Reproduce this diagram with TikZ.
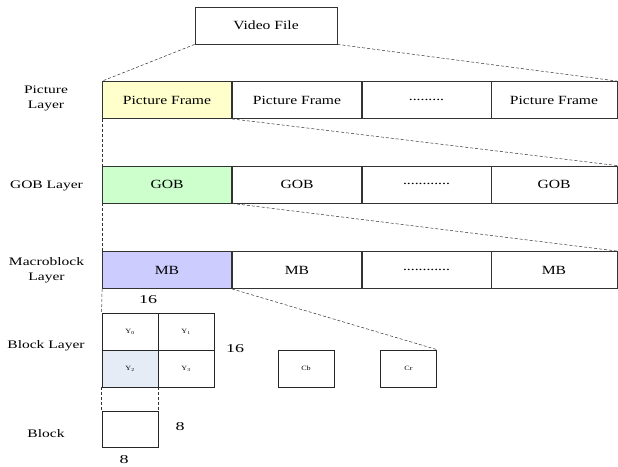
\documentclass[tikz,border=0pt]{standalone}
\usepackage{fontspec}
\setmainfont{Liberation Serif}
% horizontally widened serif faces
\newfontfamily\cellfont[FakeStretch=1.25]{Liberation Serif}
\newfontfamily\labfont[FakeStretch=1.35]{Liberation Serif}
\newfontfamily\numfont[FakeStretch=1.5]{Liberation Serif}
\begin{document}
\begin{tikzpicture}[x=1pt,y=-1pt,
  cell/.style={draw=black!80, line width=0.8pt, inner sep=0pt,
    minimum width=129pt, minimum height=37pt, font=\cellfont\fontsize{12.5}{14}\selectfont},
  sq/.style={draw=black!85, line width=0.8pt, inner sep=0pt,
    minimum width=56pt, minimum height=37pt},
  small/.style={font=\cellfont\fontsize{6.5}{7}\selectfont},
  lab/.style={align=center, font=\labfont\fontsize{11.5}{15.5}\selectfont},
  num/.style={font=\numfont\fontsize{12}{13}\selectfont},
  dashline/.style={densely dashed, line width=0.5pt, draw=black!80}]
\useasboundingbox (0,0) rectangle (618,466);
\definecolor{pfill}{HTML}{FFFFCC}
\definecolor{gfill}{HTML}{CCFFCC}
\definecolor{mfill}{HTML}{CCCCFF}
\definecolor{yfill}{HTML}{E6ECF6}

% top level
\node[cell, minimum width=142pt] (vf) at (266,25.5) {Video File};

% picture layer
\node[cell, fill=pfill] (pf1) at (167,100) {Picture Frame};
\node[cell] (pf2) at (297,100) {Picture Frame};
\node[cell] (pf3) at (426.5,100) {\raisebox{1pt}{.........}};
\node[cell, minimum width=126pt] (pf4) at (554,100) {Picture Frame};

% GOB layer
\node[cell, fill=gfill] (g1) at (167,184.5) {GOB};
\node[cell] (g2) at (297,184.5) {GOB};
\node[cell] (g3) at (426.5,184.5) {\raisebox{1pt}{............}};
\node[cell, minimum width=126pt] (g4) at (554,184.5) {GOB};

% macroblock layer
\node[cell, fill=mfill] (m1) at (167,270) {MB};
\node[cell] (m2) at (297,270) {MB};
\node[cell] (m3) at (426.5,270) {\raisebox{1pt}{............}};
\node[cell, minimum width=126pt] (m4) at (554,270) {MB};

% block layer
\node[sq, small] (y0) at (130,331.5) {Y\textsubscript{0}};
\node[sq, small] (y1) at (186,331.5) {Y\textsubscript{1}};
\node[sq, small, fill=yfill] (y2) at (130,368.5) {Y\textsubscript{2}};
\node[sq, small] (y3) at (186,368.5) {Y\textsubscript{3}};
\node[sq, small] (cb) at (306,368.5) {Cb};
\node[sq, small] (cr) at (408.5,368.5) {Cr};

% single block
\node[sq, minimum height=36pt] (blk) at (130,429) {};

% dimension labels
\node[num] (n16a) at (148,300) {16};
\node[num] (n16b) at (235,349) {16};
\node[num] (n8a) at (180,427) {8};
\node[num] (n8b) at (124,460) {8};

% layer names
\node[lab] (lp) at (46,98.5) {Picture\\Layer};
\node[lab] (lg) at (46.5,186) {GOB Layer};
\node[lab] (lm) at (46.5,270) {Macroblock\\Layer};
\node[lab] (lb) at (46,346) {Block Layer};
\node[lab] (lk) at (46,434) {Block};

% zoom-in guides
\draw[dashline] (vf.south west) -- (pf1.north west);
\draw[dashline] (vf.south east) -- (pf4.north east);
\draw[dashline] (pf1.south east) -- (g4.north east);
\draw[dashline] (pf1.south west) -- (g1.north west);
\draw[dashline] (g1.south east) -- (m4.north east);
\draw[dashline] (g1.south west) -- (m1.north west);
\draw[dashline] (m1.south east) -- (cr.north east);
\draw[dashline] (m1.south west) -- (y0.north west);
\draw[dashline] (y2.south west) -- (blk.north west);
\draw[dashline] (y2.south east) -- (blk.north east);
\end{tikzpicture}
\end{document}
